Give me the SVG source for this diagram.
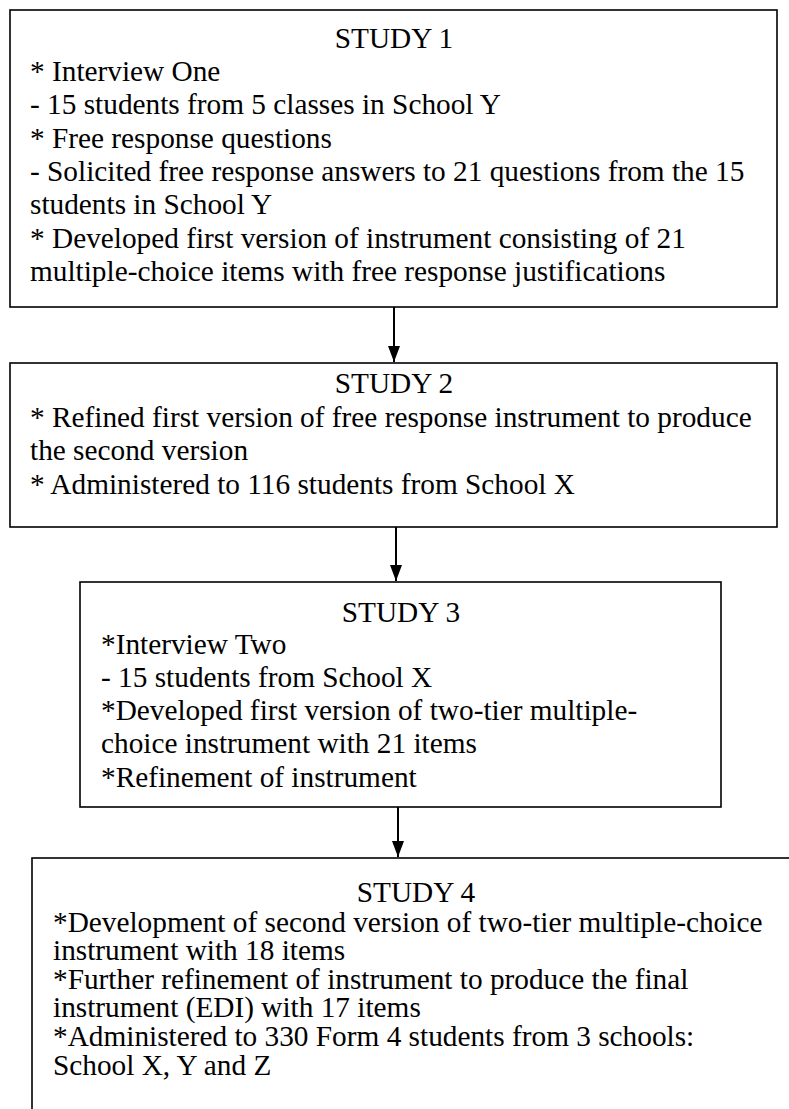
<svg xmlns="http://www.w3.org/2000/svg" width="789" height="1109" viewBox="0 0 789 1109">
<style>
.box{fill:#fff;stroke:#000;stroke-width:1.6}
.t{font-family:"Liberation Serif","Times New Roman",serif;font-size:29.3px;fill:#000}
.c{text-anchor:middle}
.conn line{stroke:#000;stroke-width:2}
</style>
<defs>
<marker id="ah" markerWidth="16" markerHeight="12" refX="16" refY="6" orient="auto" markerUnits="userSpaceOnUse" viewBox="0 0 16 12">
<path d="M0,0 L16,6 L0,12 Z" fill="#000"/>
</marker>
</defs>
<rect width="789" height="1109" fill="#fff"/>
<g id="study1">
<rect class="box" x="10" y="10" width="767" height="297"/>
<text class="t c" x="394" y="48">STUDY 1</text>
<text class="t" x="30" y="81">* Interview One</text>
<text class="t" x="30" y="114">- 15 students from 5 classes in School Y</text>
<text class="t" x="30" y="148">* Free response questions</text>
<text class="t" x="30" y="181">- Solicited free response answers to 21 questions from the 15</text>
<text class="t" x="30" y="214">students in School Y</text>
<text class="t" x="30" y="248">* Developed first version of instrument consisting of 21</text>
<text class="t" x="30" y="281">multiple-choice items with free response justifications</text>
</g>
<g id="study2">
<rect class="box" x="10" y="363" width="767" height="164"/>
<text class="t c" x="394" y="393">STUDY 2</text>
<text class="t" x="30" y="427">* Refined first version of free response instrument to produce</text>
<text class="t" x="30" y="460">the second version</text>
<text class="t" x="30" y="494">* Administered to 116 students from School X</text>
</g>
<g id="study3">
<rect class="box" x="80" y="582" width="641" height="225"/>
<text class="t c" x="401" y="622">STUDY 3</text>
<text class="t" x="101" y="654">*Interview Two</text>
<text class="t" x="101" y="687">- 15 students from School X</text>
<text class="t" x="101" y="720">*Developed first version of two-tier multiple-</text>
<text class="t" x="101" y="753">choice instrument with 21 items</text>
<text class="t" x="101" y="787">*Refinement of instrument</text>
</g>
<g id="study4">
<rect class="box" x="32" y="858" width="767" height="270"/>
<text class="t c" x="416" y="902">STUDY 4</text>
<text class="t" x="53" y="932">*Development of second version of two-tier multiple-choice</text>
<text class="t" x="53" y="960">instrument with 18 items</text>
<text class="t" x="53" y="989">*Further refinement of instrument to produce the final</text>
<text class="t" x="53" y="1017">instrument (EDI) with 17 items</text>
<text class="t" x="53" y="1046">*Administered to 330 Form 4 students from 3 schools:</text>
<text class="t" x="53" y="1075">School X, Y and Z</text>
</g>
<g id="connectors" class="conn">
<line x1="394" y1="307" x2="394" y2="362" marker-end="url(#ah)"/>
<line x1="396" y1="527" x2="396" y2="581" marker-end="url(#ah)"/>
<line x1="398" y1="807" x2="398" y2="857" marker-end="url(#ah)"/>
</g>
</svg>
